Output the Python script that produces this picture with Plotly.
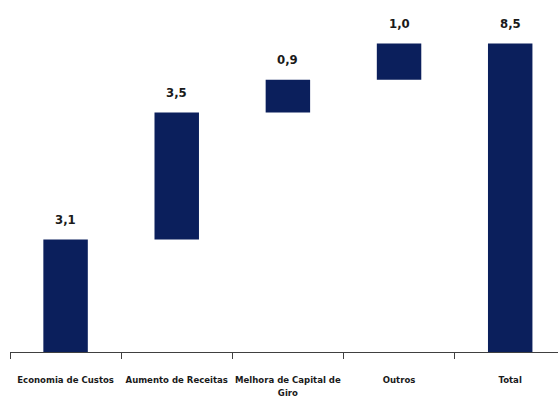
import numpy as np
import plotly.graph_objects as go

categories = ["Economia de Custos", "Aumento de Receitas", "Melhora de Capital de<br>Giro", "Outros", "Total"]
steps = [3.1, 3.5, 0.9, 1.0]
total = 8.5
labels = ["3,1", "3,5", "0,9", "1,0", "8,5"]

steps_arr = np.array(steps)
bases = list(np.concatenate([[0.0], np.cumsum(steps_arr)[:-1]])) + [0.0]
heights = list(steps_arr) + [total]
tops = [b + h for b, h in zip(bases, heights)]

navy = "#0b1f5c"
font_family = "DejaVu Sans Condensed, Liberation Sans Narrow, sans-serif"

fig = go.Figure()
fig.add_trace(go.Bar(
    x=categories,
    y=heights,
    base=bases,
    marker=dict(color=navy, line=dict(width=0)),
    width=0.4,
    hoverinfo="skip",
))

for cat, top, lab in zip(categories, tops, labels):
    fig.add_annotation(
        x=cat, y=top, text=f"<b>{lab}</b>", showarrow=False,
        yanchor="middle", yshift=20,
        font=dict(family=font_family, size=13, color="#1a1a1a"),
    )

fig.update_layout(
    width=558, height=400,
    margin=dict(l=10, r=0, t=10, b=48),
    paper_bgcolor="white", plot_bgcolor="white",
    showlegend=False,
    bargap=0.6,
    font=dict(family=font_family, color="#1a1a1a"),
)
fig.update_xaxes(
    type="category",
    range=[-0.5, 4.43],
    tickson="boundaries",
    tickangle=0,
    automargin=False,
    ticks="outside", ticklen=6, tickcolor="#404040", tickwidth=1,
    showline=True, linecolor="#404040", linewidth=1,
    showgrid=False, zeroline=False,
    tickvals=categories,
    ticktext=[f"<b>{c}</b>" for c in categories],
    tickfont=dict(family=font_family, size=9.5, color="#1a1a1a"),
    ticklabelstandoff=19,
)
fig.update_yaxes(range=[0, 342 / 36.3], visible=False)

fig.write_html("out.html")
